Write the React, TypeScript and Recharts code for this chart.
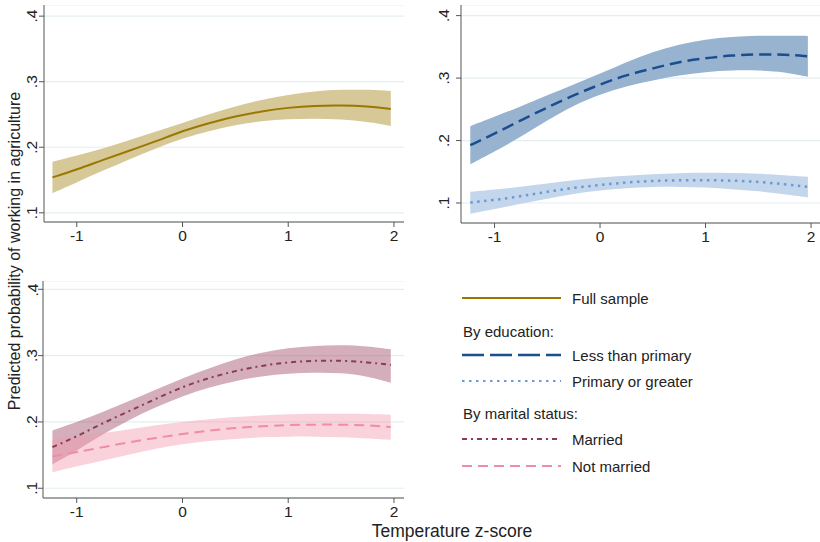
import React from "react";
import { ComposedChart, Area, Line, XAxis, YAxis, CartesianGrid } from "recharts";

// temperature z-score grid used for every series
const xs = [-1.23, -1, -0.75, -0.5, -0.25, 0, 0.25, 0.5, 0.75, 1, 1.25, 1.5, 1.75, 1.97];

const fullMean = [0.154, 0.166, 0.181, 0.195, 0.209, 0.225, 0.237, 0.2475, 0.255, 0.2605, 0.2635, 0.264, 0.2625, 0.2585];
const fullHi = [0.178, 0.187, 0.1985, 0.211, 0.224, 0.237, 0.2505, 0.2625, 0.2725, 0.28, 0.2855, 0.288, 0.288, 0.286];
const fullLo = [0.130, 0.1465, 0.1645, 0.182, 0.1985, 0.2135, 0.225, 0.234, 0.24, 0.243, 0.244, 0.2425, 0.239, 0.2325];

const lessMean = [0.1925, 0.211, 0.2325, 0.253, 0.2725, 0.29, 0.305, 0.3155, 0.326, 0.332, 0.3365, 0.338, 0.338, 0.335];
const lessHi = [0.223, 0.238, 0.255, 0.2725, 0.29, 0.307, 0.326, 0.342, 0.354, 0.362, 0.366, 0.368, 0.368, 0.3675];
const lessLo = [0.162, 0.182, 0.206, 0.2325, 0.2565, 0.274, 0.287, 0.2965, 0.3045, 0.31, 0.3125, 0.3125, 0.31, 0.302];

const primMean = [0.101, 0.1045, 0.111, 0.118, 0.1245, 0.129, 0.133, 0.1355, 0.1365, 0.1365, 0.136, 0.134, 0.13, 0.126];
const primHi = [0.118, 0.1215, 0.126, 0.131, 0.1365, 0.141, 0.144, 0.146, 0.148, 0.1485, 0.148, 0.147, 0.1445, 0.142];
const primLo = [0.083, 0.09, 0.099, 0.107, 0.115, 0.1205, 0.124, 0.126, 0.126, 0.125, 0.122, 0.119, 0.114, 0.109];

const marMean = [0.162, 0.178, 0.1985, 0.2165, 0.235, 0.253, 0.2665, 0.277, 0.285, 0.29, 0.2925, 0.2925, 0.29, 0.286];
const marHi = [0.187, 0.2, 0.215, 0.232, 0.249, 0.266, 0.281, 0.2945, 0.305, 0.3115, 0.315, 0.316, 0.3145, 0.3095];
const marLo = [0.136, 0.1565, 0.182, 0.2035, 0.2225, 0.239, 0.252, 0.262, 0.269, 0.273, 0.2745, 0.274, 0.269, 0.259];

const notMean = [0.148, 0.1545, 0.162, 0.1695, 0.176, 0.182, 0.187, 0.191, 0.1935, 0.1955, 0.196, 0.196, 0.195, 0.1925];
const notHi = [0.173, 0.178, 0.183, 0.189, 0.195, 0.2, 0.204, 0.2075, 0.21, 0.2115, 0.2125, 0.2125, 0.212, 0.211];
const notLo = [0.124, 0.133, 0.142, 0.151, 0.16, 0.1665, 0.1715, 0.1745, 0.177, 0.178, 0.178, 0.177, 0.175, 0.173];

const xTicks = [-1, 0, 1, 2];
const yTicks = [0.1, 0.2, 0.3, 0.4];

const legendRows = [
  { kind: "line", label: "Full sample", color: "#9A7800", dash: undefined, width: 2 },
  { kind: "head", label: "By education:" },
  { kind: "line", label: "Less than primary", color: "#1B4E8C", dash: "22 6", width: 2.5 },
  { kind: "line", label: "Primary or greater", color: "#6B9BD2", dash: "2.5 4.5", width: 2 },
  { kind: "head", label: "By marital status:" },
  { kind: "line", label: "Married", color: "#8C3B55", dash: "5 4 2 4", width: 2 },
  { kind: "line", label: "Not married", color: "#F08DA6", dash: "10 6", width: 2 },
];
const legendY = [298, 331, 355, 381, 413, 439, 466];

const FONT = "'Liberation Sans', Arial, sans-serif";

const fmt = (v: number) => v.toFixed(1).replace(/^0/, "");

const makeYTick = (off: number) => (p: any) => {
  const x = p.x + 7 - off;
  return (
    <text x={x} y={p.y} transform={`rotate(-90 ${x} ${p.y})`} textAnchor="middle" dominantBaseline="central" fontSize={15.5} fill="#222" fontFamily={FONT}>
      {fmt(p.payload.value)}
    </text>
  );
};

type Series = { key: string; mean: number[]; lo: number[]; hi: number[]; line: string; band: string; bandOpacity: number; dash?: string; width: number };

function Panel({ left, top, w, h, xDomain, yDomain, yOff, series }: {
  left: number; top: number; w: number; h: number; xDomain: number[]; yDomain: number[]; yOff: number; series: Series[];
}) {
  const data = xs.map((x, i) => {
    const row: any = { x };
    series.forEach((s) => {
      row[s.key] = s.mean[i];
      row[s.key + "Band"] = [s.lo[i], s.hi[i]];
    });
    return row;
  });
  return (
    <div style={{ position: "absolute", left, top }}>
      <ComposedChart width={w} height={h} data={data} margin={{ top: 0, right: 0, bottom: 0, left: 0 }}>
        <CartesianGrid vertical={false} stroke="#E4EEF0" strokeWidth={1.2} />
        <XAxis dataKey="x" type="number" domain={xDomain} ticks={xTicks} allowDataOverflow height={30}
          tickSize={5} tickMargin={3} stroke="#555" tick={{ fontSize: 15.5, fill: "#222", fontFamily: FONT }} />
        <YAxis type="number" domain={yDomain} ticks={yTicks} allowDataOverflow width={40}
          tickSize={5} tickMargin={2} stroke="#555" tick={makeYTick(yOff)} />
        {series.map((s) => (
          <Area key={s.key + "Band"} dataKey={s.key + "Band"} type="basis" stroke="none" fill={s.band}
            fillOpacity={s.bandOpacity} isAnimationActive={false} activeDot={false} />
        ))}
        {series.map((s) => (
          <Line key={s.key} dataKey={s.key} type="basis" stroke={s.line} strokeWidth={s.width}
            strokeDasharray={s.dash} dot={false} activeDot={false} isAnimationActive={false} />
        ))}
      </ComposedChart>
    </div>
  );
}

export default function App() {
  return (
    <div style={{ position: "absolute", left: 0, top: 0, width: 820, height: 542, background: "#fff", fontFamily: FONT }}>
      <Panel left={4} top={5} w={400} h={247} xDomain={[-1.31, 2.095]} yDomain={[0.086, 0.417]} yOff={12}
        series={[{ key: "full", mean: fullMean, lo: fullLo, hi: fullHi, line: "#9A7800", band: "#D7C898", bandOpacity: 1, width: 2 }]} />
      <Panel left={421} top={5} w={399} h={248} xDomain={[-1.318, 2.085]} yDomain={[0.068, 0.417]} yOff={17}
        series={[
          { key: "less", mean: lessMean, lo: lessLo, hi: lessHi, line: "#1B4E8C", band: "#98B3D0", bandOpacity: 1, dash: "12 6", width: 2.5 },
          { key: "prim", mean: primMean, lo: primLo, hi: primHi, line: "#6B9BD2", band: "#C3D6EC", bandOpacity: 1, dash: "2.5 4.5", width: 2.5 },
        ]} />
      <Panel left={3} top={281} w={401} h={247} xDomain={[-1.319, 2.095]} yDomain={[0.0853, 0.4125]} yOff={11}
        series={[
          { key: "mar", mean: marMean, lo: marLo, hi: marHi, line: "#8C3B55", band: "#A5566F", bandOpacity: 0.48, dash: "5 4 2 4", width: 2 },
          { key: "not", mean: notMean, lo: notLo, hi: notHi, line: "#F08DA6", band: "#F29CB0", bandOpacity: 0.45, dash: "10 6", width: 2 },
        ]} />
      <svg width={820} height={542} style={{ position: "absolute", left: 0, top: 0, pointerEvents: "none" }}>
        <text x={14} y={251} transform="rotate(-90 14 251)" textAnchor="middle" dominantBaseline="central" fontSize={16} fill="#222" fontFamily={FONT}>
          Predicted probability of working in agriculture
        </text>
        <text x={452} y={531} textAnchor="middle" dominantBaseline="central" fontSize={17.5} fill="#222" fontFamily={FONT}>
          Temperature z-score
        </text>
        {legendRows.map((r, i) =>
          r.kind === "head" ? (
            <text key={i} x={463} y={legendY[i]} dominantBaseline="central" fontSize={15} fill="#222" fontFamily={FONT}>{r.label}</text>
          ) : (
            <g key={i}>
              <line x1={462} x2={561} y1={legendY[i]} y2={legendY[i]} stroke={r.color} strokeWidth={r.width} strokeDasharray={r.dash} />
              <text x={572} y={legendY[i]} dominantBaseline="central" fontSize={15} fill="#222" fontFamily={FONT}>{r.label}</text>
            </g>
          )
        )}
      </svg>
    </div>
  );
}
